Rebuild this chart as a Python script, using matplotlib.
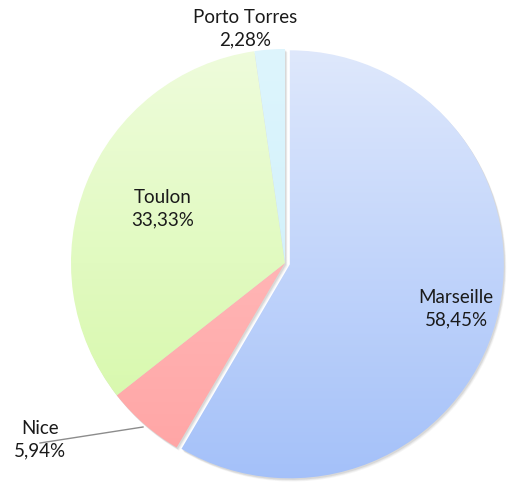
import numpy as np
import matplotlib.pyplot as plt
from matplotlib.colors import LinearSegmentedColormap
from matplotlib.patches import Wedge

# --- data ---
labels = ['Marseille', 'Nice', 'Toulon', 'Porto Torres']
values = [58.45, 5.94, 33.33, 2.28]
pct_labels = ['58,45%', '5,94%', '33,33%', '2,28%']
top_colors = ['#e0e9fc', '#ffc8c8', '#effcdd', '#def5fd']
bottom_colors = ['#a3c0f9', '#ffa3a3', '#d3f8a3', '#c8eef9']

# --- layout (pixels, y up) ---
W, H = 513, 484
cx, cy, r = 285, H - 263, 214
explode = [5, 0, 0, 0]   # pie adds explode directly in data units
label_pos = [(456, H - 309), (40, H - 440), (163, H - 209), (245, H - 29)]

plt.rcParams['font.family'] = ['Lato', 'DejaVu Sans']

fig = plt.figure(figsize=(W / 100, H / 100), dpi=100)
ax = fig.add_axes([0, 0, 1, 1])

wedges, _ = ax.pie(values, startangle=90, counterclock=False, center=(cx, cy),
                   radius=r, explode=explode, frame=True)

for w, top, bot in zip(wedges, top_colors, bottom_colors):
    w.set_facecolor('none')
    w.set_edgecolor('none')
    # soft shadow
    for k, a in [(4, 0.06), (3, 0.08), (2, 0.12)]:
        sh = Wedge((w.center[0] + k * 0.6, w.center[1] - k * 0.8), w.r, w.theta1, w.theta2,
                   facecolor='#606060', edgecolor='none', alpha=a, zorder=0.5)
        ax.add_patch(sh)
    cmap = LinearSegmentedColormap.from_list('g', [bot, top])
    grad = np.linspace(0, 1, 256).reshape(-1, 1)
    im = ax.imshow(grad, cmap=cmap, origin='lower', aspect='auto',
                   extent=(cx - r - 10, cx + r + 10, cy - r - 10, cy + r + 10), zorder=1)
    im.set_clip_path(w)

for name, pct, (x, y) in zip(labels, pct_labels, label_pos):
    ax.text(x, y, name + '\n' + pct, ha='center', va='center', fontsize=13.5,
            color='#1a1a1a', linespacing=1.4, zorder=3)

# leader line for Nice
ax.plot([40, 143], [H - 443, H - 427], color='#8c8c8c', lw=1, zorder=2)

ax.set_xlim(0, W)
ax.set_ylim(0, H)
ax.set_aspect('auto')
ax.axis('off')

fig.savefig('out.png', dpi=100)
